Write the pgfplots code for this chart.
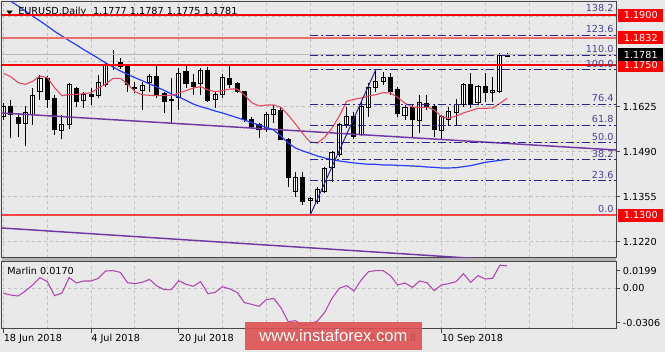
\documentclass[border=0pt]{standalone}
\usepackage{pgfplots}
\pgfplotsset{compat=1.18}
\usepackage{pgfplotstable}
\usepackage{graphicx}
\usepackage{fontspec}
\setmainfont{DejaVu Sans}
\newfontfamily\wmfont{Liberation Sans}
\newcommand{\fs}{\fontsize{7.25pt}{8.5pt}\selectfont}

\definecolor{bg}{RGB}{233,233,233}
\definecolor{gridc}{RGB}{192,192,192}
\definecolor{framec}{RGB}{70,70,70}
\definecolor{mared}{RGB}{232,70,95}
\definecolor{mablue}{RGB}{40,60,250}
\definecolor{trendp}{RGB}{115,55,165}
\definecolor{fibc}{RGB}{35,35,150}
\definecolor{fibt}{RGB}{70,70,150}
\definecolor{lvlred}{RGB}{255,0,0}
\definecolor{lvlpink}{RGB}{238,110,110}
\definecolor{lvllow}{RGB}{250,70,70}
\definecolor{marlinc}{RGB}{176,70,176}
\definecolor{wm}{RGB}{222,82,82}

\pgfplotstableread{
i o h l c
0 1.1595 1.1637 1.1586 1.1625
1 1.1625 1.1646 1.1532 1.1601
2 1.1592 1.1607 1.1535 1.1574
3 1.1574 1.1628 1.1508 1.1607
4 1.1601 1.1682 1.1571 1.1658
5 1.1670 1.1721 1.1646 1.1709
6 1.1709 1.1718 1.1622 1.1646
7 1.1649 1.1661 1.1541 1.1556
8 1.1553 1.1601 1.1529 1.1571
9 1.1571 1.1697 1.1559 1.1691
10 1.1679 1.1685 1.1625 1.1640
11 1.1643 1.1670 1.1622 1.1661
12 1.1661 1.1682 1.1631 1.1655
13 1.1658 1.1721 1.1652 1.1697
14 1.1691 1.1757 1.1685 1.1751
15 1.1751 1.1796 1.1736 1.1748
16 1.1757 1.1772 1.1739 1.1745
17 1.1745 1.1751 1.1670 1.1691
18 1.1682 1.1700 1.1667 1.1679
19 1.1673 1.1700 1.1616 1.1688
20 1.1697 1.1724 1.1670 1.1715
21 1.1715 1.1748 1.1652 1.1661
22 1.1664 1.1670 1.1607 1.1640
23 1.1646 1.1712 1.1577 1.1643
24 1.1652 1.1742 1.1616 1.1724
25 1.1730 1.1748 1.1682 1.1694
26 1.1697 1.1724 1.1661 1.1685
27 1.1694 1.1742 1.1661 1.1733
28 1.1733 1.1745 1.1640 1.1643
29 1.1646 1.1670 1.1622 1.1661
30 1.1661 1.1724 1.1652 1.1712
31 1.1709 1.1754 1.1682 1.1691
32 1.1694 1.1700 1.1667 1.1670
33 1.1670 1.1673 1.1580 1.1586
34 1.1586 1.1595 1.1559 1.1565
35 1.1571 1.1577 1.1532 1.1556
36 1.1556 1.1610 1.1550 1.1601
37 1.1601 1.1631 1.1577 1.1616
38 1.1613 1.1625 1.1526 1.1526
39 1.1526 1.1532 1.1385 1.1412
40 1.1370 1.1430 1.1355 1.1412
41 1.1412 1.1430 1.1331 1.1340
42 1.1343 1.1355 1.1300 1.1349
43 1.1340 1.1385 1.1334 1.1376
44 1.1370 1.1445 1.1367 1.1439
45 1.1442 1.1493 1.1400 1.1487
46 1.1481 1.1577 1.1475 1.1571
47 1.1571 1.1625 1.1562 1.1595
48 1.1595 1.1610 1.1529 1.1535
49 1.1541 1.1640 1.1538 1.1625
50 1.1622 1.1697 1.1595 1.1682
51 1.1682 1.1737 1.1670 1.1700
52 1.1700 1.1730 1.1691 1.1712
53 1.1712 1.1727 1.1661 1.1670
54 1.1676 1.1685 1.1595 1.1604
55 1.1598 1.1631 1.1586 1.1622
56 1.1622 1.1631 1.1535 1.1586
57 1.1583 1.1661 1.1547 1.1637
58 1.1634 1.1661 1.1616 1.1625
59 1.1625 1.1631 1.1535 1.1556
60 1.1553 1.1601 1.1526 1.1595
61 1.1586 1.1625 1.1568 1.1610
62 1.1607 1.1649 1.1571 1.1631
63 1.1631 1.1697 1.1625 1.1691
64 1.1691 1.1727 1.1622 1.1631
65 1.1637 1.1691 1.1631 1.1685
66 1.1685 1.1727 1.1640 1.1667
67 1.1667 1.1715 1.1640 1.1673
68 1.1670 1.1788 1.1667 1.1779
69 1.1777 1.1787 1.1775 1.1781
}\candles

\pgfplotstableread{
i r b
0 1.1726 1.1957
1 1.1716 1.1942
2 1.1698 1.1928
3 1.1693 1.1913
4 1.1702 1.1898
5 1.1718 1.1883
6 1.1713 1.1868
7 1.1683 1.1852
8 1.1659 1.1838
9 1.1662 1.1824
10 1.1663 1.1811
11 1.1665 1.1797
12 1.1668 1.1784
13 1.1682 1.1771
14 1.1694 1.1757
15 1.1711 1.1745
16 1.1711 1.1733
17 1.1694 1.1723
18 1.1671 1.1713
19 1.1662 1.1704
20 1.1660 1.1694
21 1.1659 1.1685
22 1.1659 1.1675
23 1.1660 1.1664
24 1.1667 1.1655
25 1.1674 1.1645
26 1.1682 1.1634
27 1.1686 1.1626
28 1.1676 1.1620
29 1.1671 1.1613
30 1.1674 1.1607
31 1.1679 1.1600
32 1.1679 1.1593
33 1.1661 1.1586
34 1.1638 1.1578
35 1.1628 1.1571
36 1.1631 1.1564
37 1.1631 1.1556
38 1.1624 1.1538
39 1.1601 1.1517
40 1.1574 1.1502
41 1.1545 1.1493
42 1.1520 1.1486
43 1.1517 1.1478
44 1.1534 1.1472
45 1.1562 1.1467
46 1.1598 1.1463
47 1.1642 1.1460
48 1.1648 1.1457
49 1.1652 1.1455
50 1.1658 1.1453
51 1.1662 1.1453
52 1.1668 1.1451
53 1.1667 1.1451
54 1.1654 1.1450
55 1.1636 1.1449
56 1.1625 1.1448
57 1.1623 1.1447
58 1.1625 1.1445
59 1.1616 1.1444
60 1.1596 1.1442
61 1.1591 1.1442
62 1.1598 1.1443
63 1.1607 1.1446
64 1.1614 1.1449
65 1.1621 1.1454
66 1.1621 1.1459
67 1.1622 1.1462
68 1.1636 1.1465
69 1.1651 1.1468
}\mas

\pgfplotstableread{
i v
0 -0.0037
1 -0.0050
2 -0.0057
3 -0.0020
4 0.0026
5 0.0081
6 0.0051
7 -0.0055
8 -0.0035
9 0.0081
10 0.0041
11 0.0056
12 0.0056
13 0.0076
14 0.0131
15 0.0134
16 0.0121
17 0.0043
18 0.0036
19 0.0046
20 0.0068
21 0.0018
22 -0.0009
23 -0.0009
24 0.0058
25 0.0031
26 0.0016
27 0.0051
28 -0.0040
29 -0.0030
30 0.0013
31 -0.0004
32 -0.0030
33 -0.0107
34 -0.0120
35 -0.0135
36 -0.0085
37 -0.0075
38 -0.0145
39 -0.0251
40 -0.0243
41 -0.0281
42 -0.0268
43 -0.0246
44 -0.0180
45 -0.0075
46 0.0001
47 0.0021
48 -0.0020
49 0.0063
50 0.0126
51 0.0134
52 0.0134
53 0.0096
54 0.0026
55 0.0041
56 0.0008
57 0.0056
58 0.0043
59 -0.0017
60 0.0026
61 0.0036
62 0.0051
63 0.0111
64 0.0046
65 0.0096
66 0.0071
67 0.0076
68 0.0175
69 0.0170
}\marlin

\pgfplotsset{
  pane/.style={scale only axis, width=460.5pt, xmin=-0.2055, xmax=83.904, anchor=north west},
  mainpane/.style={pane, at={(1.5pt,-1.5pt)}, height=192pt, ymin=1.1172, ymax=1.1940},
  indpane/.style={pane, at={(1.5pt,-196.5pt)}, height=50.25pt, ymin=-0.0306, ymax=0.0199, scaled y ticks=false},
  gridlook/.style={grid=major, grid style={gridc, dash pattern=on 2.25pt off 2.25pt, line width=0.75pt}},
  fibline/.style={draw=fibc, line width=0.75pt, dash pattern=on 6pt off 2.25pt on 1.5pt off 2.25pt},
}
\tikzset{
  fiblab/.style={fibt, anchor=south east, font=\fs, inner sep=0pt, yshift=1.5pt},
  pbox/.style={anchor=west, font=\fs, text=white, inner sep=0pt, minimum width=33.75pt, minimum height=9.75pt, xshift=1.5pt},
}

\begin{document}
\begin{tikzpicture}
\path[use as bounding box, fill=bg] (0,0) rectangle (498.75pt,-264pt);

% main panel background, grid, frame
\begin{axis}[mainpane, axis line style={framec, line width=0.75pt},
  xtick={0,6,...,84}, ytick={1.1220,1.1355,1.1490,1.1625,1.1760,1.1895},
  xticklabels={}, yticklabels={}, major tick length=0pt, gridlook]
\addplot[draw=none] coordinates {(0,1.15)};
\end{axis}

% candles
\begin{axis}[mainpane, hide axis, ybar stacked, bar width=0.56]
\addplot[draw=none, fill=none, error bars/.cd, y dir=both, y explicit, error mark=none,
  error bar style={draw=black, line width=0.75pt}]
  table[x=i, y expr={min(\thisrow{o},\thisrow{c})},
        y error plus expr={\thisrow{h}-min(\thisrow{o},\thisrow{c})},
        y error minus expr={min(\thisrow{o},\thisrow{c})-\thisrow{l}}] {\candles};
\addplot[draw=black, fill=white, line width=0.75pt] table[x=i, y expr={max(\thisrow{c}-\thisrow{o},0)}] {\candles};
\addplot[draw=black, fill=black, line width=0.75pt] table[x=i, y expr={max(\thisrow{o}-\thisrow{c},0)}] {\candles};
\end{axis}

% overlays
\begin{axis}[mainpane, axis line style={draw=none}, clip mode=individual,
  xtick=\empty, ytick={1.1220,1.1355,1.1490,1.1625},
  yticklabels={1.1220,1.1355,1.1490,1.1625},
  ytick pos=right, yticklabel pos=right, tick align=outside, major tick length=3pt,
  tick style={framec, line width=0.75pt},
  yticklabel style={font=\fs, anchor=west, inner sep=0pt, xshift=2pt}]
% bid line
\addplot[draw=gray!55, line width=0.75pt] coordinates {(-0.2055,1.1781) (83.904,1.1781)};
% long purple trend lines
\addplot[draw=trendp, line width=1.1pt] coordinates {(-0.2055,1.1607) (83.904,1.1496)};
\addplot[draw=trendp, line width=1.1pt] coordinates {(-0.2055,1.1262) (70,1.1163)};
% moving averages
\addplot[draw=mablue, line width=0.9pt] table[x=i, y=b] {\mas};
\addplot[draw=mared, line width=0.8pt] table[x=i, y=r] {\mas};
% fibonacci
\addplot[fibline] coordinates {(42,1.19039) (83.904,1.19039)};
\addplot[fibline] coordinates {(42,1.18401) (83.904,1.18401)};
\addplot[fibline] coordinates {(42,1.17807) (83.904,1.17807)};
\addplot[fibline] coordinates {(42,1.17370) (83.904,1.17370)};
\addplot[fibline] coordinates {(42,1.16339) (83.904,1.16339)};
\addplot[fibline] coordinates {(42,1.15701) (83.904,1.15701)};
\addplot[fibline] coordinates {(42,1.15185) (83.904,1.15185)};
\addplot[fibline] coordinates {(42,1.14669) (83.904,1.14669)};
\addplot[fibline] coordinates {(42,1.14031) (83.904,1.14031)};
\addplot[fibline] coordinates {(42,1.13000) (83.904,1.13000)};
\addplot[draw=fibc, line width=0.75pt] coordinates {(42,1.1300) (51,1.1737)};
% horizontal levels
\addplot[draw=lvlred, line width=1.5pt] coordinates {(-0.2055,1.1900) (83.904,1.1900)};
\addplot[draw=lvlpink, line width=1.7pt] coordinates {(-0.2055,1.1832) (83.904,1.1832)};
\addplot[draw=lvlred, line width=1.3pt] coordinates {(-0.2055,1.1750) (83.904,1.1750)};
\addplot[draw=lvllow, line width=1.5pt] coordinates {(-0.2055,1.1300) (83.904,1.1300)};
\node[fiblab] at (axis cs:83.6,1.19039) {138.2};
\node[fiblab] at (axis cs:83.6,1.18401) {123.6};
\node[fiblab] at (axis cs:83.6,1.17807) {110.0};
\node[fiblab] at (axis cs:83.6,1.17370) {100.0};
\node[fiblab] at (axis cs:83.6,1.16339) {76.4};
\node[fiblab] at (axis cs:83.6,1.15701) {61.8};
\node[fiblab] at (axis cs:83.6,1.15185) {50.0};
\node[fiblab] at (axis cs:83.6,1.14669) {38.2};
\node[fiblab] at (axis cs:83.6,1.14031) {23.6};
\node[fiblab] at (axis cs:83.6,1.13000) {0.0};
% price boxes
\node[pbox, fill=red] at (axis cs:83.904,1.1900) {1.1900};
\node[pbox, fill=red] at (axis cs:83.904,1.1832) {1.1832};
\node[pbox, fill=red] at (axis cs:83.904,1.1750) {1.1750};
\node[pbox, fill=black] at (axis cs:83.904,1.1781) {1.1781};
\node[pbox, fill=red] at (axis cs:83.904,1.1300) {1.1300};
% title
\node[anchor=base west, font=\fs, inner sep=0pt] at (rel axis cs:0,1) [xshift=3pt, yshift=-9.75pt]
  {\scalebox{0.9}[0.55]{▼}\hspace{4pt}EURUSD,Daily\hspace{5pt}1.1777 1.1787 1.1775 1.1781};
\end{axis}

% splitter
\fill[gray!60] (1.5pt,-193.5pt) rectangle (462pt,-196.5pt);

% indicator panel
\begin{axis}[indpane, axis background/.style={fill=bg}, axis line style={framec, line width=0.75pt},
  xtick={0,6,...,84}, ytick={0}, xticklabels={}, yticklabels={}, major tick length=0pt, gridlook]
\addplot[draw=marlinc, line width=0.8pt] table[x=i, y=v] {\marlin};
\node[anchor=north west, font=\fs, inner sep=0pt] at (rel axis cs:0,1) [xshift=3.75pt, yshift=-3.75pt] {Marlin 0.0170};
\end{axis}

% indicator ticks and date labels
\begin{axis}[indpane, axis line style={draw=none},
  xtick={0,12,...,60},
  xticklabels={18 Jun 2018,4 Jul 2018,20 Jul 2018,7 Aug 2018,23 Aug 2018,10 Sep 2018},
  xtick pos=bottom, ytick={-0.0257,0,0.0135}, yticklabels={-0.0306,0.00,0.0199},
  ytick pos=right, yticklabel pos=right, tick align=outside, major tick length=3pt,
  tick style={framec, line width=0.75pt},
  xticklabel style={anchor=north west, font=\fs, inner sep=0pt, yshift=-1pt},
  yticklabel style={font=\fs, anchor=west, inner sep=0pt, xshift=2pt}]
\addplot[draw=none] coordinates {(0,0)};
\end{axis}

% watermark
\node[fill=wm, fill opacity=0.9, text opacity=1, text=white, font=\wmfont\fontsize{12.5pt}{14pt}\selectfont,
  minimum width=132.75pt, minimum height=21pt, inner sep=0pt] at (250.1pt,-252pt) {www.instaforex.com};
\end{tikzpicture}
\end{document}
